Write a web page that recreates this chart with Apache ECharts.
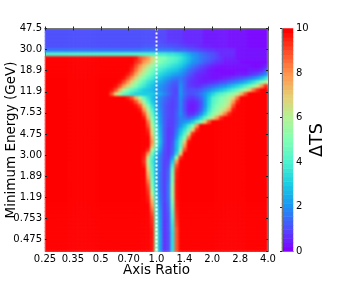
<!DOCTYPE html>
<html><head><meta charset="utf-8">
<style>html,body{margin:0;padding:0;background:#fff}#c{width:360px;height:288px}</style>
<script src="https://cdn.jsdelivr.net/npm/echarts@6/dist/echarts.min.js"></script>
</head><body><div id="c"></div>
<script>
const xTickLabels=['0.25','0.35','0.5','0.70','1.0','1.4','2.0','2.8','4.0'];
const yTickLabels=['47.5','30.0','18.9','11.9','7.53','4.75','3.00','1.89','1.19','0.753','0.475'];
const colorbarLevels=[0,.2,.4,.6,.8,1,1.2,1.4,1.6,1.8,2,2.2,2.4,2.6,2.8,3,3.2,3.4,3.6,3.8,4,4.2,4.4,4.6,4.8,5,5.2,5.4,5.6,5.8,6,6.2,6.4,6.6,6.8,7,7.2,7.4,7.6,7.8,8,8.2,8.4,8.6,8.8,9,9.2,9.4,9.6,9.8,10];
const unitRatioTick=4;
const tsRows=[
[1,1,1,1,1,1,1,1,1,1,1,1,1,1,1,1,1,1,1,1,1,1,1,1,1,1,1,.9,.9,.9,.7,.7,.7,.7,.5,.5,.5,.5,.5,.3,.3,.3,.3,.3,.3,.2,.2,.2,.2,.2,.1,.1,.1,.1,.1],
[1,1,1,1,1,1,1,1,1,1,1,1,1,1,1,1,1,1,1,1,1,1,1,1,1,1,1,.9,.9,.9,.7,.7,.7,.7,.5,.5,.5,.5,.5,.3,.3,.3,.3,.3,.3,.2,.2,.2,.2,.2,.1,.1,.1,.1,.1],
[1,1,1,1,1,1,1,1,1,1,1,1,1,1,1,1,1,1,1,1,1,1,1,1,1,1,1,.9,.9,.9,.7,.7,.7,.7,.5,.5,.5,.5,.5,.3,.3,.3,.3,.3,.3,.2,.2,.2,.2,.2,.1,.1,.1,.1,.1],
[1,1,1,1,1,1,1,1,1,1,1,1,1,1,1,1,1,1,1,1,1,1,1,1,1,1,1,1,1,.9,.8,.8,.8,.7,.6,.5,.5,.5,.5,.3,.3,.3,.3,.3,.3,.2,.2,.2,.2,.2,.1,.1,.1,.1,.1],
[1,1,1,1,1,1,1,1,1,1,1,1,1,1,1,1,1,1,1,1,1,1,1,1,1.1,1.1,1.1,1.1,1.1,1.1,1,1,1,.9,.8,.7,.7,.6,.5,.4,.4,.3,.3,.3,.3,.2,.2,.2,.2,.2,.1,.1,.1,.1,.1],
[1.5,1.5,1.5,1.5,1.5,1.5,1.5,1.5,1.5,1.5,1.5,1.5,1.5,1.5,1.5,1.5,1.5,1.5,1.5,1.5,1.5,1.5,1.5,1.5,1.6,1.6,1.6,1.6,1.6,1.6,1.6,1.6,1.4,1.4,1.4,1.2,1.1,1,.9,.8,.7,.7,.5,.5,.5,.5,.5,.2,.2,.2,.2,.2,.2,.2,.2],
[4,4,4,4,4,4,4,4,4,4,4,4,4,4,4,4,4,4,4,4,4,4,4,4,4,4,4,4,3.8,3.8,3.6,3.6,3.4,3.2,2.8,2.4,2,1.8,1.5,1.3,1.1,1,.8,.5,.5,.5,.5,.2,.2,.2,.2,.2,.2,.2,.2],
[10,10,10,10,10,10,10,10,10,10,10,10,10,10,10,10,10,10,10,10,10,10,9.8,9,8.5,8,7,6,5,5,4.5,4.3,4,3.7,3.2,2.7,2.2,1.9,1.6,1.4,1.2,1,.8,.6,.4,.4,.4,.2,.2,.2,.2,.2,.2,.2,.2],
[10,10,10,10,10,10,10,10,10,10,10,10,10,10,10,10,10,10,10,10,10,10,9.5,9,8,7.5,6.5,5.5,5,4.6,4.3,4,3.8,3.4,3,2.5,2,1.8,1.5,1.2,1,.8,.6,.5,.3,.3,.3,.3,.1,.1,.1,.1,.1,.1,.1],
[10,10,10,10,10,10,10,10,10,10,10,10,10,10,10,10,10,10,10,10,10,9.8,9,8,7.2,6.4,5.5,4.8,4.4,4.1,3.8,3.5,3.3,3,2.5,2,1.6,1.3,1,.8,.6,.4,.3,.2,.2,.2,.2,.2,.2,.2,.2,.1,.1,.2,.4],
[10,10,10,10,10,10,10,10,10,10,10,10,10,10,10,10,10,10,10,10,10,9.5,8.5,7.5,6.5,5.6,4.8,4.2,3.8,3.5,3.2,3,2.8,2.4,2,1.5,1.2,.9,.7,.5,.3,.2,.1,.1,.1,.1,.1,.1,.1,.1,.3,.3,.3,.5,1],
[10,10,10,10,10,10,10,10,10,10,10,10,10,10,10,10,10,10,10,10,9.7,9,7.8,6.7,5.8,5,4.4,3.8,3.3,3,2.7,2.4,2.2,2,1.6,1.2,.9,.6,.5,.4,.3,.2,.2,.1,.1,.1,.1,.3,.3,.3,.5,.7,.9,1.3,1.8],
[10,10,10,10,10,10,10,10,10,10,10,10,10,10,10,10,10,10,10,9.8,9,8,6.8,5.8,5,4.3,3.8,3.2,2.8,2.4,2.1,1.8,1.6,1.6,1.3,.9,.7,.5,.4,.3,.3,.2,.2,.3,.4,.5,.7,.8,1,1.2,1.5,1.8,2.2,2.8,3.5],
[10,10,10,10,10,10,10,10,10,10,10,10,10,10,10,10,10,10,9.8,9,8,6.8,5.8,4.9,4.2,3.6,3.2,2.7,2.3,2,1.6,1.3,1.2,1.7,1.3,.8,.6,.5,.4,.4,.5,.6,.7,.9,1,1.3,1.5,1.8,2.1,2.5,3,3.5,4.2,5,6],
[10,10,10,10,10,10,10,10,10,10,10,10,10,10,10,10,10,9.8,9,7.8,6.8,5.8,5,4.2,3.7,3.2,2.8,2.4,2,1.7,1.4,1.1,1,1.9,1.3,.8,.7,.6,.7,.9,1.1,1.3,1.5,1.8,2,2.4,2.8,3.2,3.6,4.1,4.7,5.4,6.5,8,9.5],
[10,10,10,10,10,10,10,10,10,10,10,10,10,10,10,10,9.8,9,7.5,6,5,4.4,3.9,3.4,3,2.8,2.6,2.2,1.9,1.6,1.3,1,.9,2,1.3,1,1,1,1.2,1.5,1.8,2.2,2.5,2.8,3.2,3.6,4,4.5,5.2,6,7,8.5,9.5,10,10],
[10,10,10,10,10,10,10,10,10,10,10,10,10,10,10,10,9,7,5.5,4.5,4,3.5,3.2,3.1,3,3,2.9,2.6,2.2,1.8,1.4,1,.9,2,1.4,1,1,1.2,1.5,2,2.6,3.2,3.8,4.2,4.6,5,5.5,6.2,7.5,9,10,10,10,10,10],
[10,10,10,10,10,10,10,10,10,10,10,10,10,10,10,10,10,10,10,10,9.7,9,7.5,6,4.5,3.5,2.8,2.2,1.8,1.4,1.1,.9,1,1.9,1.2,.8,.7,.9,1.3,2,3,4,4.5,5,5.4,6,6.8,8.5,10,10,10,10,10,10,10],
[10,10,10,10,10,10,10,10,10,10,10,10,10,10,10,10,10,10,10,10,10,9.8,9,7.5,5.5,4,3,2.3,1.7,1.3,1,.8,1,1.8,1,.5,.4,.6,1,2,3.2,4.2,4.7,5.2,5.6,6.3,8,9.6,10,10,10,10,10,10,10],
[10,10,10,10,10,10,10,10,10,10,10,10,10,10,10,10,10,10,10,10,10,10,9.8,9,7,5,3.5,2.5,1.7,1.2,.9,.8,1,1.8,1,.4,.3,.5,1,2,3.3,4.4,5,5.5,6,7,9,10,10,10,10,10,10,10,10],
[10,10,10,10,10,10,10,10,10,10,10,10,10,10,10,10,10,10,10,10,10,10,10,9.7,8,6,4,2.7,1.8,1.2,.9,.8,1.1,1.8,1,.4,.3,.6,1.2,2.3,3.6,4.7,5.4,6,6.8,8,9.8,10,10,10,10,10,10,10,10],
[10,10,10,10,10,10,10,10,10,10,10,10,10,10,10,10,10,10,10,10,10,10,10,10,9,6.8,4.5,3,1.9,1.2,.9,.8,1.2,1.9,1.2,.6,.6,1,1.8,3,4.2,5.2,6,7,8.3,9.6,10,10,10,10,10,10,10,10,10],
[10,10,10,10,10,10,10,10,10,10,10,10,10,10,10,10,10,10,10,10,10,10,10,10,9.7,7.5,5,3.3,2,1.2,.9,.8,1.2,1.7,1.5,1.2,1.5,2.2,3.2,4.3,5.4,6.5,8,9.5,10,10,10,10,10,10,10,10,10,10,10],
[10,10,10,10,10,10,10,10,10,10,10,10,10,10,10,10,10,10,10,10,10,10,10,10,10,8.5,5.5,3.5,2,1.2,.8,.8,1.2,1.8,2,2.3,3,4,5,7,9,10,10,10,10,10,10,10,10,10,10,10,10,10,10],
[10,10,10,10,10,10,10,10,10,10,10,10,10,10,10,10,10,10,10,10,10,10,10,10,10,9,6,3.8,2.2,1.2,.8,.8,1.3,2,2.8,3.8,5,8,10,10,10,10,10,10,10,10,10,10,10,10,10,10,10,10,10],
[10,10,10,10,10,10,10,10,10,10,10,10,10,10,10,10,10,10,10,10,10,10,10,10,10,9.5,6.5,4,2.3,1.2,.7,.8,1.5,2.6,3.5,4.7,7,9.5,10,10,10,10,10,10,10,10,10,10,10,10,10,10,10,10,10],
[10,10,10,10,10,10,10,10,10,10,10,10,10,10,10,10,10,10,10,10,10,10,10,10,10,9.8,7,4.2,2.4,1.2,.7,.8,1.7,3,4.2,6.5,9.5,10,10,10,10,10,10,10,10,10,10,10,10,10,10,10,10,10,10],
[10,10,10,10,10,10,10,10,10,10,10,10,10,10,10,10,10,10,10,10,10,10,10,10,10,10,7.5,4.5,2.5,1.2,.7,.9,2,3.6,5,8.5,10,10,10,10,10,10,10,10,10,10,10,10,10,10,10,10,10,10,10],
[10,10,10,10,10,10,10,10,10,10,10,10,10,10,10,10,10,10,10,10,10,10,10,10,10,10,8,4.8,2.6,1.2,.7,1,2.5,4,7,9.8,10,10,10,10,10,10,10,10,10,10,10,10,10,10,10,10,10,10,10],
[10,10,10,10,10,10,10,10,10,10,10,10,10,10,10,10,10,10,10,10,10,10,10,10,10,10,7.5,4.5,2.4,1.1,.7,1.1,2.6,4.2,8,10,10,10,10,10,10,10,10,10,10,10,10,10,10,10,10,10,10,10,10],
[10,10,10,10,10,10,10,10,10,10,10,10,10,10,10,10,10,10,10,10,10,10,10,10,10,9.5,6,3.8,2.1,1,.7,1.2,2.6,5,9,10,10,10,10,10,10,10,10,10,10,10,10,10,10,10,10,10,10,10,10],
[10,10,10,10,10,10,10,10,10,10,10,10,10,10,10,10,10,10,10,10,10,10,10,10,9.8,8,4.7,3,1.7,.9,.7,1.3,3.2,7,10,10,10,10,10,10,10,10,10,10,10,10,10,10,10,10,10,10,10,10,10],
[10,10,10,10,10,10,10,10,10,10,10,10,10,10,10,10,10,10,10,10,10,10,10,10,9.6,6.5,4,2.6,1.5,.9,.8,2,5.5,9.5,10,10,10,10,10,10,10,10,10,10,10,10,10,10,10,10,10,10,10,10,10],
[10,10,10,10,10,10,10,10,10,10,10,10,10,10,10,10,10,10,10,10,10,10,10,10,9.4,6,3.8,2.5,1.5,.8,.9,3,8,10,10,10,10,10,10,10,10,10,10,10,10,10,10,10,10,10,10,10,10,10,10],
[10,10,10,10,10,10,10,10,10,10,10,10,10,10,10,10,10,10,10,10,10,10,10,10,9.7,6.5,4,2.5,1.5,.8,1,3.8,9,10,10,10,10,10,10,10,10,10,10,10,10,10,10,10,10,10,10,10,10,10,10],
[10,10,10,10,10,10,10,10,10,10,10,10,10,10,10,10,10,10,10,10,10,10,10,10,10,7,4.2,2.5,1.5,.8,1.2,4.5,9.5,10,10,10,10,10,10,10,10,10,10,10,10,10,10,10,10,10,10,10,10,10,10],
[10,10,10,10,10,10,10,10,10,10,10,10,10,10,10,10,10,10,10,10,10,10,10,10,10,7.5,4.4,2.5,1.4,.8,1.3,4.8,9.7,10,10,10,10,10,10,10,10,10,10,10,10,10,10,10,10,10,10,10,10,10,10],
[10,10,10,10,10,10,10,10,10,10,10,10,10,10,10,10,10,10,10,10,10,10,10,10,10,8,4.6,2.6,1.4,.8,1.3,5,9.7,10,10,10,10,10,10,10,10,10,10,10,10,10,10,10,10,10,10,10,10,10,10],
[10,10,10,10,10,10,10,10,10,10,10,10,10,10,10,10,10,10,10,10,10,10,10,10,10,8.5,4.8,2.7,1.4,.8,1.4,5,9.8,10,10,10,10,10,10,10,10,10,10,10,10,10,10,10,10,10,10,10,10,10,10],
[10,10,10,10,10,10,10,10,10,10,10,10,10,10,10,10,10,10,10,10,10,10,10,10,10,9,5,2.8,1.4,.8,1.5,5.5,9.8,10,10,10,10,10,10,10,10,10,10,10,10,10,10,10,10,10,10,10,10,10,10],
[10,10,10,10,10,10,10,10,10,10,10,10,10,10,10,10,10,10,10,10,10,10,10,10,10,9.3,5.5,3,1.4,.8,1.5,5.5,9.8,10,10,10,10,10,10,10,10,10,10,10,10,10,10,10,10,10,10,10,10,10,10],
[10,10,10,10,10,10,10,10,10,10,10,10,10,10,10,10,10,10,10,10,10,10,10,10,10,9.5,6,3.2,1.5,.8,1.5,5.5,9.8,10,10,10,10,10,10,10,10,10,10,10,10,10,10,10,10,10,10,10,10,10,10],
[10,10,10,10,10,10,10,10,10,10,10,10,10,10,10,10,10,10,10,10,10,10,10,10,10,9.7,6.8,3.4,1.5,.8,1.5,5.5,9.8,10,10,10,10,10,10,10,10,10,10,10,10,10,10,10,10,10,10,10,10,10,10],
[10,10,10,10,10,10,10,10,10,10,10,10,10,10,10,10,10,10,10,10,10,10,10,10,10,9.8,7.5,3.6,1.6,.8,1.4,5,9.7,10,10,10,10,10,10,10,10,10,10,10,10,10,10,10,10,10,10,10,10,10,10],
[10,10,10,10,10,10,10,10,10,10,10,10,10,10,10,10,10,10,10,10,10,10,10,10,10,10,8,3.8,1.7,.7,1.3,4.8,9.7,10,10,10,10,10,10,10,10,10,10,10,10,10,10,10,10,10,10,10,10,10,10],
[10,10,10,10,10,10,10,10,10,10,10,10,10,10,10,10,10,10,10,10,10,10,10,10,10,10,8.5,4,1.8,.7,1.2,4.5,9.6,10,10,10,10,10,10,10,10,10,10,10,10,10,10,10,10,10,10,10,10,10,10],
[10,10,10,10,10,10,10,10,10,10,10,10,10,10,10,10,10,10,10,10,10,10,10,10,10,10,9,4.2,1.9,.7,1.1,4.2,9.5,10,10,10,10,10,10,10,10,10,10,10,10,10,10,10,10,10,10,10,10,10,10],
[10,10,10,10,10,10,10,10,10,10,10,10,10,10,10,10,10,10,10,10,10,10,10,10,10,10,9.3,4.4,1.9,.7,1,4,9.4,10,10,10,10,10,10,10,10,10,10,10,10,10,10,10,10,10,10,10,10,10,10],
[10,10,10,10,10,10,10,10,10,10,10,10,10,10,10,10,10,10,10,10,10,10,10,10,10,10,9.5,4.5,2,.6,1,3.8,9.3,10,10,10,10,10,10,10,10,10,10,10,10,10,10,10,10,10,10,10,10,10,10],
[10,10,10,10,10,10,10,10,10,10,10,10,10,10,10,10,10,10,10,10,10,10,10,10,10,10,9.6,4.6,2,.6,1,3.6,9.2,10,10,10,10,10,10,10,10,10,10,10,10,10,10,10,10,10,10,10,10,10,10],
[10,10,10,10,10,10,10,10,10,10,10,10,10,10,10,10,10,10,10,10,10,10,10,10,10,10,9.7,4.8,2,.6,1,3.5,9,10,10,10,10,10,10,10,10,10,10,10,10,10,10,10,10,10,10,10,10,10,10],
[10,10,10,10,10,10,10,10,10,10,10,10,10,10,10,10,10,10,10,10,10,10,10,10,10,10,9.8,5,2.1,.6,.9,3.4,9,10,10,10,10,10,10,10,10,10,10,10,10,10,10,10,10,10,10,10,10,10,10],
[10,10,10,10,10,10,10,10,10,10,10,10,10,10,10,10,10,10,10,10,10,10,10,10,10,10,9.8,5,2.1,.6,.9,3.4,9,10,10,10,10,10,10,10,10,10,10,10,10,10,10,10,10,10,10,10,10,10,10],
[10,10,10,10,10,10,10,10,10,10,10,10,10,10,10,10,10,10,10,10,10,10,10,10,10,10,9.8,5,2.1,.6,.9,3.4,9,10,10,10,10,10,10,10,10,10,10,10,10,10,10,10,10,10,10,10,10,10,10],
[10,10,10,10,10,10,10,10,10,10,10,10,10,10,10,10,10,10,10,10,10,10,10,10,10,10,9.8,5,2.1,.6,.9,3.4,9,10,10,10,10,10,10,10,10,10,10,10,10,10,10,10,10,10,10,10,10,10,10],
[10,10,10,10,10,10,10,10,10,10,10,10,10,10,10,10,10,10,10,10,10,10,10,10,10,10,9.8,5,2.1,.6,.9,3.4,9,10,10,10,10,10,10,10,10,10,10,10,10,10,10,10,10,10,10,10,10,10,10]
];
const rainbow=['#8000ff','#4d4ffc','#1a96f3','#1acee3','#4df3ce','#80ffb4','#b3f396','#e6ce74','#ff964f','#ff4f28','#ff0000'];
const font='"DejaVu Sans"';
const cells=[];
tsRows.forEach((r,j)=>r.forEach((v,i)=>cells.push([i,j,v])));
const rampCells=colorbarLevels.map((v,j)=>[0,j,v]);
const lineStyle={color:'#777',width:1};
const frameAxis={type:'value',z:6,zlevel:1,silent:true,
  axisLine:{show:true,lineStyle},
  axisTick:{show:true,inside:true,length:2,lineStyle:{color:'#222',width:1}},
  splitLine:{show:false},axisLabel:{show:false}};
const barEdge={type:'value',z:6,zlevel:1,min:0,max:1,axisLine:{show:true,lineStyle},axisTick:{show:false},axisLabel:{show:false},splitLine:{show:false}};
const chart=echarts.init(document.getElementById('c'),null,{renderer:'canvas'});
chart.on('finished',function smooth(){
  chart.off('finished',smooth);
  const cv=document.querySelector('#c canvas');
  const copy=document.createElement('canvas');copy.width=cv.width;copy.height=cv.height;
  copy.getContext('2d').drawImage(cv,0,0);
  const ctx=cv.getContext('2d');
  ctx.save();ctx.setTransform(1,0,0,1,0,0);
  ctx.beginPath();ctx.rect(45,28,224,224);ctx.clip();
  ctx.filter='blur(1.3px)';
  ctx.drawImage(copy,45,28,224,224,45,28,224,224);
  ctx.restore();
});
chart.setOption({
  animation:false,backgroundColor:'#fff',
  grid:[{left:45,top:28.5,width:223,height:223,outerBoundsMode:'none'},{left:282,top:28.5,width:11,height:223,outerBoundsMode:'none'}],
  xAxis:[
    {type:'category',gridIndex:0,show:false,data:tsRows[0].map((_,i)=>i)},
    Object.assign({},frameAxis,{gridIndex:0,position:'bottom',min:0,max:8,interval:1,
      axisLabel:{show:true,fontFamily:font,fontSize:10,color:'#000',margin:3,formatter:v=>xTickLabels[v]},
      name:'Axis Ratio',nameLocation:'middle',nameGap:12,nameMoveOverlap:false,nameTextStyle:{fontFamily:font,fontSize:13.5,color:'#000'}}),
    Object.assign({},frameAxis,{gridIndex:0,position:'top',min:0,max:8,interval:1}),
    {type:'category',gridIndex:1,zlevel:1,data:['ramp'],axisLine:{show:true,lineStyle},axisTick:{show:false},axisLabel:{show:false}},
    Object.assign({},barEdge,{gridIndex:1,position:'top'})
  ],
  yAxis:[
    {type:'category',gridIndex:0,show:false,inverse:true,data:tsRows.map((_,j)=>j)},
    Object.assign({},frameAxis,{gridIndex:0,position:'left',inverse:true,min:0,max:10.57,interval:1,
      axisLabel:{show:true,fontFamily:font,fontSize:10,color:'#000',margin:3,showMaxLabel:false,formatter:v=>yTickLabels[v]||''},
      name:'Minimum Energy (GeV)',nameLocation:'middle',nameGap:27,nameMoveOverlap:false,nameRotate:90,nameTextStyle:{fontFamily:font,fontSize:13.5,color:'#000'}}),
    Object.assign({},frameAxis,{gridIndex:0,position:'right',inverse:true,min:0,max:10.57,interval:1}),
    {type:'value',gridIndex:1,position:'right',min:0,max:10,interval:2,z:6,zlevel:1,
      axisLine:{show:true,lineStyle},
      axisTick:{show:true,inside:true,length:2,lineStyle:{color:'#222'}},splitLine:{show:false},
      axisLabel:{fontFamily:font,fontSize:10,color:'#000',margin:3},
      name:'ΔTS',nameLocation:'middle',nameGap:15,nameMoveOverlap:false,nameRotate:90,nameTextStyle:{fontFamily:font,fontSize:17.5,color:'#000'}},
    {type:'category',gridIndex:1,show:false,data:colorbarLevels.map(String)},
    Object.assign({},barEdge,{gridIndex:1,position:'left'})
  ],
  visualMap:{type:'continuous',seriesIndex:[0,2],min:0,max:10,dimension:2,show:false,inRange:{color:rainbow}},
  series:[
    {type:'heatmap',xAxisIndex:0,yAxisIndex:0,data:cells,silent:true,emphasis:{disabled:true},progressive:0,itemStyle:{borderWidth:0}},
    {type:'line',xAxisIndex:1,yAxisIndex:1,silent:true,symbol:'none',z:5,zlevel:1,
      data:[[unitRatioTick,0],[unitRatioTick,10.57]],
      lineStyle:{color:'#fff',width:2,type:[2,2]}},
    {type:'heatmap',xAxisIndex:3,yAxisIndex:4,data:rampCells,silent:true,emphasis:{disabled:true},progressive:0,itemStyle:{borderWidth:0}}
  ]
});
</script></body></html>
